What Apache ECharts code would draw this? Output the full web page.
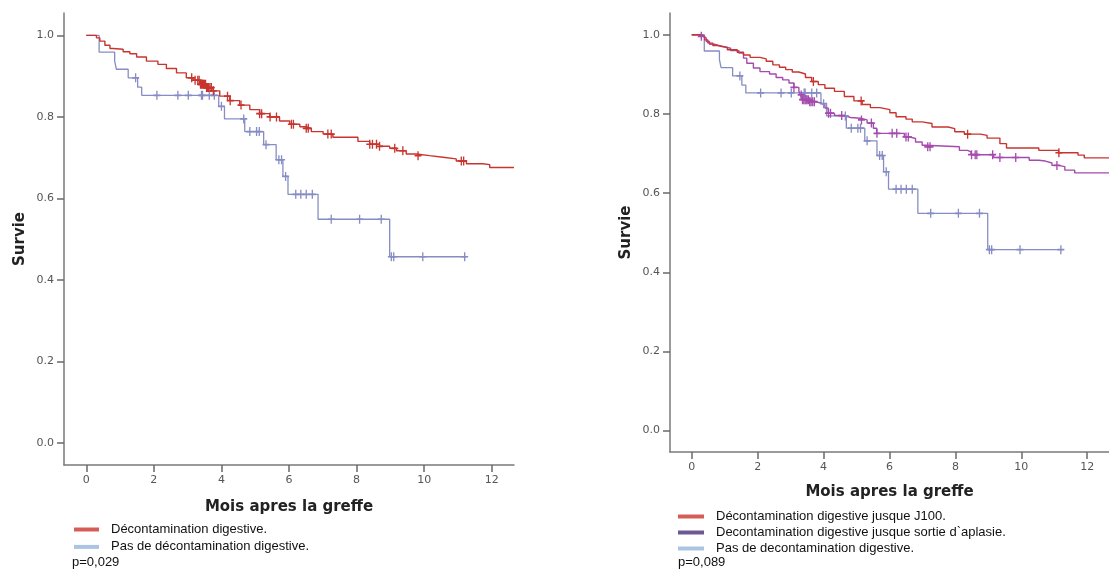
<!DOCTYPE html>
<html>
<head>
<meta charset="utf-8" />
<title>Survie</title>
<script src="https://cdn.jsdelivr.net/npm/echarts@6/dist/echarts.min.js"></script>
<style>
  body { margin: 0; background: #fff; }
  #chart { width: 1109px; height: 569px; }
</style>
</head>
<body>
<div id="chart"></div>
<script>
// axes
const xTicks = [0, 2, 4, 6, 8, 10, 12];
const yTicks = [0, 0.2, 0.4, 0.6, 0.8, 1.0];

// Décontamination digestive (left, red)
const decoTime = [0, 0.2, 0.3, 0.4, 0.55, 0.7, 0.79, 1.09, 1.29, 1.49, 1.78, 2.12, 2.37, 2.67, 2.96, 3.16, 3.36, 3.56, 3.75, 3.95, 4.25, 4.54, 4.84, 5.13, 5.43, 5.72, 6.02, 6.32, 6.51, 6.66, 7.01, 7.3, 8.04, 8.39, 8.68, 8.98, 9.18, 9.47, 9.77, 10.16, 10.56, 10.95, 11.25, 11.74, 11.94, 12.66];
const decoSurv = [1.0, 1.0, 0.994, 0.986, 0.976, 0.968, 0.966, 0.96, 0.955, 0.947, 0.937, 0.929, 0.919, 0.908, 0.896, 0.89, 0.88, 0.872, 0.864, 0.851, 0.84, 0.829, 0.818, 0.808, 0.8, 0.79, 0.782, 0.776, 0.772, 0.764, 0.758, 0.75, 0.74, 0.733, 0.728, 0.723, 0.717, 0.709, 0.705, 0.701, 0.697, 0.692, 0.685, 0.683, 0.676, 0.676];
const decoCens = [3.12, 3.22, 3.3, 3.34, 3.38, 3.41, 3.44, 3.47, 3.5, 3.53, 3.56, 3.59, 3.62, 3.66, 3.7, 3.76, 4.18, 4.26, 4.58, 5.13, 5.19, 5.44, 5.63, 6.07, 6.13, 6.51, 6.57, 7.15, 7.25, 8.39, 8.47, 8.59, 8.68, 9.13, 9.37, 9.82, 11.1, 11.17];

// Pas de décontamination digestive (both charts)
const noDecoTime = [0, 0.38, 0.84, 0.89, 1.24, 1.52, 1.64, 3.92, 4.09, 4.69, 5.25, 5.62, 5.82, 5.97, 6.86, 8.98, 11.25];
const noDecoSurv = [1.0, 0.959, 0.937, 0.917, 0.896, 0.873, 0.853, 0.826, 0.795, 0.764, 0.732, 0.695, 0.654, 0.61, 0.549, 0.457, 0.457];
const noDecoCens = [1.46, 2.09, 2.71, 3.02, 3.41, 3.44, 3.64, 3.79, 4.0, 4.66, 4.84, 5.04, 5.12, 5.32, 5.7, 5.78, 5.9, 6.2, 6.35, 6.51, 6.69, 7.25, 8.09, 8.73, 9.03, 9.1, 9.96, 11.2];

// jusque J100 (right, red)
const j100Time = [0, 0.2, 0.3, 0.39, 0.49, 0.64, 0.79, 1.08, 1.38, 1.57, 1.77, 2.07, 2.26, 2.46, 2.66, 2.85, 3.05, 3.25, 3.45, 3.64, 3.84, 4.04, 4.33, 4.63, 4.92, 5.17, 5.42, 5.71, 6.01, 6.2, 6.5, 6.69, 6.99, 7.29, 7.78, 7.98, 8.27, 8.76, 8.96, 9.35, 9.55, 10.53, 11.13, 11.72, 11.91, 12.66];
const j100Surv = [1.0, 1.0, 0.996, 0.987, 0.979, 0.973, 0.968, 0.962, 0.956, 0.949, 0.943, 0.939, 0.933, 0.924, 0.918, 0.912, 0.906, 0.901, 0.892, 0.882, 0.874, 0.865, 0.857, 0.844, 0.833, 0.824, 0.816, 0.811, 0.803, 0.793, 0.787, 0.78, 0.776, 0.767, 0.763, 0.755, 0.749, 0.746, 0.739, 0.725, 0.714, 0.708, 0.702, 0.696, 0.689, 0.689];
const j100Cens = [3.69, 5.14, 8.37, 11.14];

// jusque sortie d'aplasie (right, purple)
const aplaTime = [0, 0.2, 0.25, 0.34, 0.44, 0.54, 0.69, 0.89, 1.18, 1.43, 1.57, 1.67, 1.87, 2.07, 2.36, 2.56, 2.76, 2.95, 3.1, 3.25, 3.3, 3.35, 3.55, 3.74, 3.94, 4.04, 4.14, 4.33, 4.63, 4.82, 5.12, 5.32, 5.51, 5.61, 6.45, 6.6, 6.79, 6.99, 7.09, 8.12, 8.37, 8.47, 9.16, 10.24, 10.53, 10.73, 10.93, 11.13, 11.32, 11.62, 12.66];
const aplaSurv = [1.0, 1.0, 0.996, 0.992, 0.983, 0.976, 0.971, 0.966, 0.96, 0.954, 0.941, 0.928, 0.916, 0.907, 0.901, 0.892, 0.886, 0.878, 0.867, 0.857, 0.848, 0.836, 0.831, 0.827, 0.822, 0.815, 0.802, 0.796, 0.791, 0.789, 0.785, 0.777, 0.764, 0.751, 0.742, 0.738, 0.729, 0.721, 0.717, 0.708, 0.704, 0.697, 0.69, 0.683, 0.681, 0.676, 0.67, 0.667, 0.658, 0.651, 0.651];
const aplaCens = [0.29, 3.1, 3.32, 3.36, 3.4, 3.44, 3.47, 3.5, 3.54, 3.58, 3.62, 3.67, 3.72, 4.15, 4.21, 4.55, 5.15, 5.45, 5.62, 6.08, 6.22, 6.5, 6.57, 7.16, 7.23, 8.49, 8.6, 8.65, 9.13, 9.35, 9.83, 11.08];

const leftNames = ["Décontamination digestive.", "Pas de décontamination digestive."];
const rightNames = [
  "Décontamination digestive jusque J100.",
  "Decontamination digestive jusque sortie d`aplasie.",
  "Pas de decontamination digestive.",
];
const pValues = ["p=0,029", "p=0,089"];

const RED = "#c8352e";
const BLUE = "#878dc4";
const PURPLE = "#a54bae";
const PLUS = "path://M3,0h1.4v3h3v1.4h-3v3h-1.4v-3h-3v-1.4h3z";

const zip = (t, s) => t.map((v, i) => [v, s[i]]);

// survival value at time t (step function)
const survAt = (times, surv, t) => {
  let s = surv[0];
  for (let i = 0; i < times.length; i++) {
    if (times[i] <= t) s = surv[i];
  }
  return s;
};

const curve = (name, times, surv, color, idx, width) => ({
  name: name,
  type: "line",
  step: "end",
  xAxisIndex: idx,
  yAxisIndex: idx,
  data: zip(times, surv),
  showSymbol: false,
  symbol: "none",
  lineStyle: { color: color, width: width },
  itemStyle: { color: color },
  emphasis: { disabled: true },
});

const censors = (times, surv, cens, color, idx) => ({
  name: "cens",
  type: "scatter",
  xAxisIndex: idx,
  yAxisIndex: idx,
  data: cens.map((t) => [t, survAt(times, surv, t)]),
  symbol: PLUS,
  symbolSize: [7, 9],
  itemStyle: { color: color, opacity: 1 },
  emphasis: { disabled: true },
  z: 4,
});

const xAxisOf = (idx, gap) => ({
  type: "value",
  gridIndex: idx,
  min: -0.66,
  max: 12.66,
  name: "Mois apres la greffe",
  nameLocation: "middle",
  nameGap: gap,
  nameTextStyle: { fontFamily: "DejaVu Sans", fontWeight: "bold", fontSize: 15, color: "#222" },
  splitLine: { show: false },
  axisLine: { show: true, onZero: false, lineStyle: { color: "#7a7a7a", width: 1.5 } },
  axisTick: { show: true, length: 7, customValues: xTicks, lineStyle: { color: "#6a6a6a", width: 1.5 } },
  axisLabel: {
    customValues: xTicks,
    margin: 10,
    fontFamily: "DejaVu Sans",
    fontSize: 11,
    color: "#555",
  },
});

const yAxisOf = (idx) => ({
  type: "value",
  gridIndex: idx,
  min: -0.054,
  max: 1.055,
  name: "Survie",
  nameLocation: "middle",
  nameGap: 36,
  nameTextStyle: { fontFamily: "DejaVu Sans", fontWeight: "bold", fontSize: 15, color: "#222" },
  splitLine: { show: false },
  axisLine: { show: true, onZero: false, lineStyle: { color: "#7a7a7a", width: 1.5 } },
  axisTick: { show: true, length: 7, customValues: yTicks, lineStyle: { color: "#6a6a6a", width: 1.5 } },
  axisLabel: {
    customValues: yTicks,
    margin: 10,
    fontFamily: "DejaVu Sans",
    fontSize: 11,
    color: "#555",
    formatter: (v) => v.toFixed(1),
  },
});

const legendText = {
  fontFamily: "Liberation Sans",
  fontSize: 13,
  color: "#111",
  padding: [0, 0, 0, 7],
};

var option = {
  animation: false,
  backgroundColor: "#fff",
  title: [
    { text: pValues[0], left: 72, top: 556, padding: 0, textStyle: { fontFamily: "Liberation Sans", fontSize: 13, fontWeight: "normal", color: "#111" } },
    { text: pValues[1], left: 678, top: 556, padding: 0, textStyle: { fontFamily: "Liberation Sans", fontSize: 13, fontWeight: "normal", color: "#111" } },
  ],
  legend: [
    {
      orient: "vertical",
      left: 74,
      top: 523,
      padding: 0,
      itemGap: 4.4,
      itemWidth: 25,
      itemHeight: 4,
      icon: "rect",
      selectedMode: false,
      itemStyle: { borderWidth: 0 },
      textStyle: legendText,
      data: [
        { name: leftNames[0], itemStyle: { color: "#d65d57" } },
        { name: leftNames[1], itemStyle: { color: "#aac4e2" } },
      ],
    },
    {
      orient: "vertical",
      left: 678,
      top: 510,
      padding: 0,
      itemGap: 3,
      itemWidth: 26,
      itemHeight: 4,
      icon: "rect",
      selectedMode: false,
      itemStyle: { borderWidth: 0 },
      textStyle: legendText,
      data: [
        { name: rightNames[0], itemStyle: { color: "#d65d57" } },
        { name: rightNames[1], itemStyle: { color: "#6c5894" } },
        { name: rightNames[2], itemStyle: { color: "#aac4e2" } },
      ],
    },
  ],
  grid: [
    { left: 64, top: 13, width: 450, height: 452 },
    { left: 670, top: 13, width: 450, height: 439 },
  ],
  xAxis: [xAxisOf(0, 35), xAxisOf(1, 33)],
  yAxis: [yAxisOf(0), yAxisOf(1)],
  series: [
    curve(leftNames[1], noDecoTime, noDecoSurv, BLUE, 0, 1.3),
    censors(noDecoTime, noDecoSurv, noDecoCens, BLUE, 0),
    curve(leftNames[0], decoTime, decoSurv, RED, 0, 1.4),
    censors(decoTime, decoSurv, decoCens, RED, 0),

    curve(rightNames[2], noDecoTime, noDecoSurv, BLUE, 1, 1.3),
    censors(noDecoTime, noDecoSurv, noDecoCens, BLUE, 1),
    curve(rightNames[1], aplaTime, aplaSurv, PURPLE, 1, 1.4),
    censors(aplaTime, aplaSurv, aplaCens, PURPLE, 1),
    curve(rightNames[0], j100Time, j100Surv, RED, 1, 1.4),
    censors(j100Time, j100Surv, j100Cens, RED, 1),
  ],
};

var myChart = echarts.init(document.getElementById("chart"));
myChart.setOption(option);
</script>
</body>
</html>
